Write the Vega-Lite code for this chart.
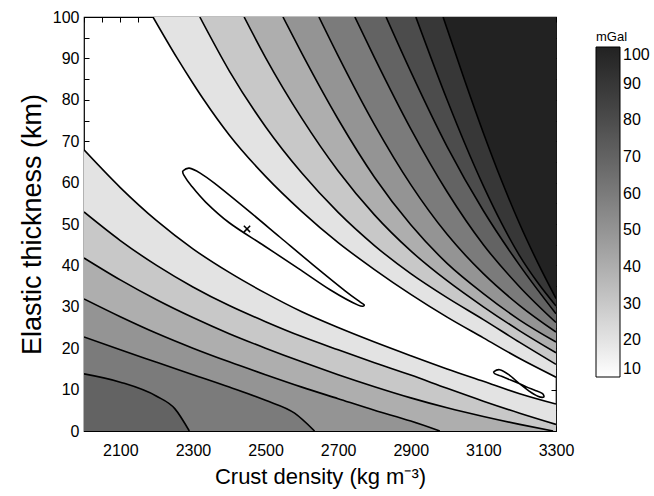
{
  "$schema": "https://vega.github.io/schema/vega-lite/v6.json",
  "width": 472,
  "height": 414,
  "autosize": "none",
  "padding": {"left": 84, "top": 17, "right": 98, "bottom": 65},
  "config": {
    "font": "Liberation Sans",
    "view": {"stroke": "#000", "strokeWidth": 1.2},
    "axis": {"domain": false, "grid": false, "tickColor": "#000", "labelColor": "#000", "titleColor": "#000", "labelFontSize": 16, "titleFontSize": 19, "titleFontWeight": "normal", "tickSize": -5, "labelFlush": false}
  },
  "datasets": {
    "up": [
      {"c": "u10", "b": 20, "x": 2190, "y": 100}, {"c": "u10", "b": 20, "x": 2257, "y": 90}, {"c": "u10", "b": 20, "x": 2300, "y": 84}, {"c": "u10", "b": 20, "x": 2330, "y": 80}, {"c": "u10", "b": 20, "x": 2400, "y": 71.5}, {"c": "u10", "b": 20, "x": 2500, "y": 61.5}, {"c": "u10", "b": 20, "x": 2600, "y": 53}, {"c": "u10", "b": 20, "x": 2700, "y": 45.5}, {"c": "u10", "b": 20, "x": 2800, "y": 39}, {"c": "u10", "b": 20, "x": 2900, "y": 33}, {"c": "u10", "b": 20, "x": 3000, "y": 27.5}, {"c": "u10", "b": 20, "x": 3100, "y": 22.5}, {"c": "u10", "b": 20, "x": 3200, "y": 17.5}, {"c": "u10", "b": 20, "x": 3300, "y": 13},
      {"c": "u20", "b": 30, "x": 2319, "y": 100}, {"c": "u20", "b": 30, "x": 2400, "y": 87}, {"c": "u20", "b": 30, "x": 2500, "y": 73.5}, {"c": "u20", "b": 30, "x": 2600, "y": 62.3}, {"c": "u20", "b": 30, "x": 2700, "y": 52.8}, {"c": "u20", "b": 30, "x": 2800, "y": 44.8}, {"c": "u20", "b": 30, "x": 2900, "y": 38}, {"c": "u20", "b": 30, "x": 3000, "y": 32.2}, {"c": "u20", "b": 30, "x": 3100, "y": 26.9}, {"c": "u20", "b": 30, "x": 3200, "y": 21.4}, {"c": "u20", "b": 30, "x": 3300, "y": 16.1},
      {"c": "u30", "b": 40, "x": 2441, "y": 100}, {"c": "u30", "b": 40, "x": 2500, "y": 90.2}, {"c": "u30", "b": 40, "x": 2600, "y": 75.5}, {"c": "u30", "b": 40, "x": 2700, "y": 62.8}, {"c": "u30", "b": 40, "x": 2800, "y": 52.2}, {"c": "u30", "b": 40, "x": 2900, "y": 43.5}, {"c": "u30", "b": 40, "x": 3000, "y": 36.3}, {"c": "u30", "b": 40, "x": 3100, "y": 30}, {"c": "u30", "b": 40, "x": 3200, "y": 24.2}, {"c": "u30", "b": 40, "x": 3300, "y": 18.9},
      {"c": "u40", "b": 50, "x": 2548, "y": 100}, {"c": "u40", "b": 50, "x": 2600, "y": 91.2}, {"c": "u40", "b": 50, "x": 2700, "y": 75.3}, {"c": "u40", "b": 50, "x": 2800, "y": 61.3}, {"c": "u40", "b": 50, "x": 2900, "y": 49.8}, {"c": "u40", "b": 50, "x": 3000, "y": 40.5}, {"c": "u40", "b": 50, "x": 3100, "y": 33.2}, {"c": "u40", "b": 50, "x": 3200, "y": 26.8}, {"c": "u40", "b": 50, "x": 3300, "y": 21.5},
      {"c": "u50", "b": 60, "x": 2647, "y": 100}, {"c": "u50", "b": 60, "x": 2700, "y": 90.6}, {"c": "u50", "b": 60, "x": 2800, "y": 74}, {"c": "u50", "b": 60, "x": 2900, "y": 59.5}, {"c": "u50", "b": 60, "x": 3000, "y": 47.5}, {"c": "u50", "b": 60, "x": 3100, "y": 38}, {"c": "u50", "b": 60, "x": 3200, "y": 30.3}, {"c": "u50", "b": 60, "x": 3300, "y": 23.9},
      {"c": "u60", "b": 70, "x": 2746, "y": 100}, {"c": "u60", "b": 70, "x": 2800, "y": 90.2}, {"c": "u60", "b": 70, "x": 2900, "y": 73}, {"c": "u60", "b": 70, "x": 3000, "y": 57.8}, {"c": "u60", "b": 70, "x": 3100, "y": 45}, {"c": "u60", "b": 70, "x": 3200, "y": 34.8}, {"c": "u60", "b": 70, "x": 3300, "y": 26.2},
      {"c": "u70", "b": 80, "x": 2832, "y": 100}, {"c": "u70", "b": 80, "x": 2900, "y": 86.8}, {"c": "u70", "b": 80, "x": 3000, "y": 68.7}, {"c": "u70", "b": 80, "x": 3100, "y": 53.2}, {"c": "u70", "b": 80, "x": 3200, "y": 40}, {"c": "u70", "b": 80, "x": 3300, "y": 28.3},
      {"c": "u80", "b": 90, "x": 2914, "y": 100}, {"c": "u80", "b": 90, "x": 3000, "y": 80}, {"c": "u80", "b": 90, "x": 3050, "y": 69.2}, {"c": "u80", "b": 90, "x": 3100, "y": 59.2}, {"c": "u80", "b": 90, "x": 3150, "y": 50.2}, {"c": "u80", "b": 90, "x": 3200, "y": 42.3}, {"c": "u80", "b": 90, "x": 3250, "y": 35.8}, {"c": "u80", "b": 90, "x": 3300, "y": 30.2},
      {"c": "u90", "b": 100, "x": 2989, "y": 100}, {"c": "u90", "b": 100, "x": 3050, "y": 84.3}, {"c": "u90", "b": 100, "x": 3100, "y": 72}, {"c": "u90", "b": 100, "x": 3150, "y": 60.5}, {"c": "u90", "b": 100, "x": 3200, "y": 50}, {"c": "u90", "b": 100, "x": 3250, "y": 40.6}, {"c": "u90", "b": 100, "x": 3300, "y": 32}
    ],
    "lo": [
      {"c": "l10", "b": 20, "x": 2000, "y": 67.9}, {"c": "l10", "b": 20, "x": 2100, "y": 58.8}, {"c": "l10", "b": 20, "x": 2200, "y": 50.8}, {"c": "l10", "b": 20, "x": 2300, "y": 44}, {"c": "l10", "b": 20, "x": 2400, "y": 38.3}, {"c": "l10", "b": 20, "x": 2500, "y": 33.3}, {"c": "l10", "b": 20, "x": 2600, "y": 28.8}, {"c": "l10", "b": 20, "x": 2700, "y": 25}, {"c": "l10", "b": 20, "x": 2800, "y": 21.5}, {"c": "l10", "b": 20, "x": 2900, "y": 18.2}, {"c": "l10", "b": 20, "x": 3000, "y": 15}, {"c": "l10", "b": 20, "x": 3100, "y": 12}, {"c": "l10", "b": 20, "x": 3200, "y": 9}, {"c": "l10", "b": 20, "x": 3300, "y": 6.5},
      {"c": "l20", "b": 30, "x": 2000, "y": 52.9}, {"c": "l20", "b": 30, "x": 2100, "y": 46}, {"c": "l20", "b": 30, "x": 2200, "y": 40}, {"c": "l20", "b": 30, "x": 2300, "y": 34.8}, {"c": "l20", "b": 30, "x": 2400, "y": 30.3}, {"c": "l20", "b": 30, "x": 2500, "y": 26.4}, {"c": "l20", "b": 30, "x": 2600, "y": 22.8}, {"c": "l20", "b": 30, "x": 2700, "y": 19.6}, {"c": "l20", "b": 30, "x": 2800, "y": 16.5}, {"c": "l20", "b": 30, "x": 2900, "y": 13.5}, {"c": "l20", "b": 30, "x": 3000, "y": 10.3}, {"c": "l20", "b": 30, "x": 3100, "y": 7.2}, {"c": "l20", "b": 30, "x": 3200, "y": 4.3}, {"c": "l20", "b": 30, "x": 3300, "y": 1.6},
      {"c": "l30", "b": 40, "x": 2000, "y": 41.8}, {"c": "l30", "b": 40, "x": 2100, "y": 36.5}, {"c": "l30", "b": 40, "x": 2200, "y": 31.7}, {"c": "l30", "b": 40, "x": 2300, "y": 27.4}, {"c": "l30", "b": 40, "x": 2400, "y": 23.5}, {"c": "l30", "b": 40, "x": 2500, "y": 20}, {"c": "l30", "b": 40, "x": 2600, "y": 16.7}, {"c": "l30", "b": 40, "x": 2700, "y": 13.6}, {"c": "l30", "b": 40, "x": 2800, "y": 10.7}, {"c": "l30", "b": 40, "x": 2900, "y": 8}, {"c": "l30", "b": 40, "x": 3000, "y": 5.6}, {"c": "l30", "b": 40, "x": 3100, "y": 3.5}, {"c": "l30", "b": 40, "x": 3200, "y": 1.6}, {"c": "l30", "b": 40, "x": 3292, "y": 0},
      {"c": "l40", "b": 50, "x": 2000, "y": 31.9}, {"c": "l40", "b": 50, "x": 2100, "y": 27.6}, {"c": "l40", "b": 50, "x": 2200, "y": 23.6}, {"c": "l40", "b": 50, "x": 2300, "y": 20}, {"c": "l40", "b": 50, "x": 2400, "y": 16.7}, {"c": "l40", "b": 50, "x": 2500, "y": 13.6}, {"c": "l40", "b": 50, "x": 2600, "y": 10.6}, {"c": "l40", "b": 50, "x": 2700, "y": 7.8}, {"c": "l40", "b": 50, "x": 2800, "y": 5}, {"c": "l40", "b": 50, "x": 2900, "y": 2.4}, {"c": "l40", "b": 50, "x": 2980, "y": 0},
      {"c": "l50", "b": 60, "x": 2000, "y": 22.7}, {"c": "l50", "b": 60, "x": 2100, "y": 19.6}, {"c": "l50", "b": 60, "x": 2200, "y": 16.6}, {"c": "l50", "b": 60, "x": 2300, "y": 13.6}, {"c": "l50", "b": 60, "x": 2400, "y": 10.6}, {"c": "l50", "b": 60, "x": 2500, "y": 7.4}, {"c": "l50", "b": 60, "x": 2580, "y": 4.3}, {"c": "l50", "b": 60, "x": 2635, "y": 0},
      {"c": "l60", "b": 70, "x": 2000, "y": 13.8}, {"c": "l60", "b": 70, "x": 2100, "y": 11.8}, {"c": "l60", "b": 70, "x": 2200, "y": 8.4}, {"c": "l60", "b": 70, "x": 2250, "y": 5.4}, {"c": "l60", "b": 70, "x": 2290, "y": 0}
    ],
    "loops": [
      {"c": "e", "o": 1, "x": 2272, "y": 62.8}, {"c": "e", "o": 2, "x": 2290, "y": 63.5}, {"c": "e", "o": 3, "x": 2320, "y": 62.3}, {"c": "e", "o": 4, "x": 2360, "y": 59.8}, {"c": "e", "o": 5, "x": 2450, "y": 53.4}, {"c": "e", "o": 6, "x": 2540, "y": 46.8}, {"c": "e", "o": 7, "x": 2630, "y": 40.2}, {"c": "e", "o": 8, "x": 2720, "y": 33.8}, {"c": "e", "o": 9, "x": 2760, "y": 31.2}, {"c": "e", "o": 10, "x": 2772, "y": 30.4}, {"c": "e", "o": 11, "x": 2755, "y": 30.4}, {"c": "e", "o": 12, "x": 2680, "y": 34}, {"c": "e", "o": 13, "x": 2590, "y": 39.3}, {"c": "e", "o": 14, "x": 2495, "y": 44.8}, {"c": "e", "o": 15, "x": 2400, "y": 50.3}, {"c": "e", "o": 16, "x": 2335, "y": 55.3}, {"c": "e", "o": 17, "x": 2295, "y": 59.3}, {"c": "e", "o": 18, "x": 2275, "y": 61.8}, {"c": "e", "o": 19, "x": 2272, "y": 62.8},
      {"c": "f", "o": 1, "x": 3128, "y": 14.3}, {"c": "f", "o": 2, "x": 3145, "y": 14.8}, {"c": "f", "o": 3, "x": 3170, "y": 13.6}, {"c": "f", "o": 4, "x": 3200, "y": 11.4}, {"c": "f", "o": 5, "x": 3225, "y": 9.7}, {"c": "f", "o": 6, "x": 3250, "y": 8.4}, {"c": "f", "o": 7, "x": 3266, "y": 8.2}, {"c": "f", "o": 8, "x": 3262, "y": 9.1}, {"c": "f", "o": 9, "x": 3240, "y": 9.9}, {"c": "f", "o": 10, "x": 3220, "y": 10.6}, {"c": "f", "o": 11, "x": 3200, "y": 11.4}, {"c": "f", "o": 12, "x": 3175, "y": 12.3}, {"c": "f", "o": 13, "x": 3150, "y": 13.2}, {"c": "f", "o": 14, "x": 3132, "y": 13.8}, {"c": "f", "o": 15, "x": 3128, "y": 14.3}
    ],
    "best": [{"x": 2449, "y": 48.8}]
  },
  "layer": [
    {
      "data": {"name": "up"},
      "mark": {"type": "area", "interpolate": "monotone", "clip": true},
      "encoding": {
        "x": {"field": "x", "type": "quantitative", "scale": {"domain": [2000, 3300], "nice": false, "zero": false}, "axis": null},
        "y": {"field": "y", "type": "quantitative", "scale": {"domain": [0, 100], "nice": false}, "axis": null, "stack": null},
        "y2": {"datum": 100},
        "color": {"field": "b", "type": "quantitative", "scale": {"domain": [10, 100], "range": ["#ffffff", "#222222"]},
          "legend": {"orient": "none", "legendX": 512, "legendY": 14, "direction": "vertical", "gradientLength": 330, "gradientThickness": 24, "title": "mGal", "titleFontSize": 13, "titleFontWeight": "normal", "titleColor": "#000", "titlePadding": 3, "labelFontSize": 16, "labelColor": "#000", "labelOffset": 3, "values": [10, 20, 30, 40, 50, 60, 70, 80, 90, 100], "gradientStrokeColor": "#000", "gradientStrokeWidth": 1}},
        "detail": {"field": "c"}
      }
    },
    {
      "data": {"name": "lo"},
      "mark": {"type": "area", "interpolate": "monotone", "clip": true},
      "encoding": {
        "x": {"field": "x", "type": "quantitative", "axis": null},
        "y": {"field": "y", "type": "quantitative", "axis": null, "stack": null},
        "y2": {"datum": 0},
        "color": {"field": "b", "type": "quantitative"},
        "detail": {"field": "c"}
      }
    },
    {
      "data": {"name": "up"},
      "mark": {"type": "line", "interpolate": "monotone", "color": "#000", "strokeWidth": 1.6, "clip": true},
      "encoding": {
        "x": {"field": "x", "type": "quantitative", "axis": null},
        "y": {"field": "y", "type": "quantitative", "axis": null},
        "detail": {"field": "c"}
      }
    },
    {
      "data": {"name": "lo"},
      "mark": {"type": "line", "interpolate": "monotone", "color": "#000", "strokeWidth": 1.6, "clip": true},
      "encoding": {
        "x": {"field": "x", "type": "quantitative", "axis": {"orient": "bottom", "values": [2000, 2050, 2100, 2150, 2200, 2250, 2300, 2350, 2400, 2450, 2500, 2550, 2600, 2650, 2700, 2750, 2800, 2850, 2900, 2950, 3000, 3050, 3100, 3150, 3200, 3250, 3300], "format": "d", "labelExpr": "datum.value % 200 == 100 ? datum.label : ''", "labelPadding": 16, "title": "Crust density (kg m⁻³)", "titleFontSize": 22, "titlePadding": 8}},
        "y": {"field": "y", "type": "quantitative", "axis": {"orient": "left", "values": [0, 5, 10, 15, 20, 25, 30, 35, 40, 45, 50, 55, 60, 65, 70, 75, 80, 85, 90, 95, 100], "labelExpr": "datum.value % 10 == 0 ? datum.label : ''", "labelPadding": 10, "title": "Elastic thickness (km)", "titleFontSize": 27, "titlePadding": 6}},
        "detail": {"field": "c"}
      }
    },
    {
      "data": {"name": "loops"},
      "mark": {"type": "line", "interpolate": "cardinal", "color": "#000", "strokeWidth": 1.6},
      "encoding": {
        "x": {"field": "x", "type": "quantitative", "axis": null},
        "y": {"field": "y", "type": "quantitative", "axis": null},
        "detail": {"field": "c"},
        "order": {"field": "o", "type": "quantitative"}
      }
    },
    {
      "data": {"name": "best"},
      "mark": {"type": "point", "shape": "M-1,-1L1,1M-1,1L1,-1", "filled": false, "stroke": "#000", "strokeWidth": 1.5, "size": 40, "opacity": 1},
      "encoding": {
        "x": {"field": "x", "type": "quantitative", "axis": {"orient": "top", "values": [2000, 2050, 2100, 2150, 2200, 2250, 2300, 2350, 2400, 2450, 2500, 2550, 2600, 2650, 2700, 2750, 2800, 2850, 2900, 2950, 3000, 3050, 3100, 3150, 3200, 3250, 3300], "labels": false, "title": null}},
        "y": {"field": "y", "type": "quantitative", "axis": {"orient": "right", "values": [0, 5, 10, 15, 20, 25, 30, 35, 40, 45, 50, 55, 60, 65, 70, 75, 80, 85, 90, 95, 100], "labels": false, "title": null}}
      }
    }
  ],
  "resolve": {"axis": {"x": "independent", "y": "independent"}}
}
